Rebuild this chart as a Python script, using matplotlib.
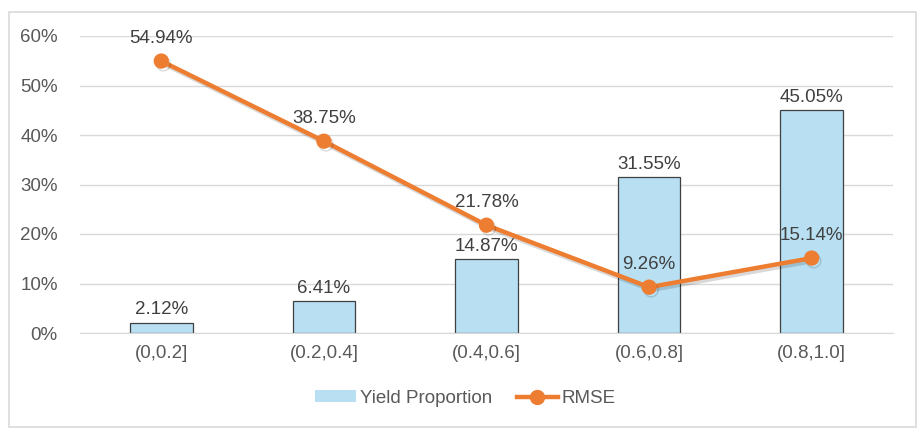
import matplotlib
matplotlib.use("Agg")
import matplotlib.pyplot as plt
import matplotlib.patheffects as pe
from matplotlib.patches import Rectangle, Patch
from matplotlib.lines import Line2D
from matplotlib.ticker import FuncFormatter

categories = ["(0,0.2]", "(0.2,0.4]", "(0.4,0.6]", "(0.6,0.8]", "(0.8,1.0]"]
yield_proportion = [2.12, 6.41, 14.87, 31.55, 45.05]
rmse = [54.94, 38.75, 21.78, 9.26, 15.14]
yticks = [0, 10, 20, 30, 40, 50, 60]

plt.rcParams['font.family'] = ['Liberation Sans', 'DejaVu Sans']

BAR_COLOR = "#b8e0f2"
LINE_COLOR = "#ed7d31"
TEXT_COLOR = "#404040"
FS = 13.5

fig = plt.figure(figsize=(9.23, 4.33), dpi=100)
fig.patch.set_facecolor("white")
fig.patches.append(Rectangle((9/923, 1-427/433), (916-9)/923, (427-12)/433,
                             transform=fig.transFigure, fill=False,
                             edgecolor="#d9d9d9", linewidth=1.2))

ax = fig.add_axes([80/923, 1-333/433, (893-80)/923, (333-36)/433])
x = list(range(len(categories)))

ax.bar(x, yield_proportion, width=0.385, color=BAR_COLOR, edgecolor="#404040",
       linewidth=0.9, zorder=2)

shadow = [pe.SimpleLineShadow(offset=(1.5, -2), shadow_color="black", alpha=0.15),
          pe.Normal()]
ax.plot(x, rmse, color=LINE_COLOR, linewidth=3.2, marker="o", markersize=10,
        zorder=3, path_effects=shadow, solid_capstyle="round")

for xi, v in zip(x, yield_proportion):
    ax.annotate(f"{v:.2f}%", (xi, v), xytext=(0, 3), textcoords="offset points",
                ha="center", va="bottom", fontsize=FS, color=TEXT_COLOR, zorder=4)
for xi, v in zip(x, rmse):
    ax.annotate(f"{v:.2f}%", (xi, v), xytext=(0, 10), textcoords="offset points",
                ha="center", va="bottom", fontsize=FS, color=TEXT_COLOR, zorder=4)

ax.set_xlim(-0.5, len(categories) - 0.5)
ax.set_ylim(0, 60)
ax.set_yticks(yticks)
ax.yaxis.set_major_formatter(FuncFormatter(lambda v, p: f"{v:.0f}%"))
ax.set_xticks(x)
ax.set_xticklabels(categories)
ax.tick_params(axis="both", length=0, labelsize=FS, colors="#595959")
ax.tick_params(axis="y", pad=16)
ax.tick_params(axis="x", pad=9)
ax.grid(axis="y", color="#d9d9d9", linewidth=1, zorder=0)
ax.set_axisbelow(True)
for s in ["top", "right", "left"]:
    ax.spines[s].set_visible(False)
ax.spines["bottom"].set_color("#d9d9d9")

handles = [Patch(facecolor=BAR_COLOR, edgecolor="none"),
           Line2D([0], [0], color=LINE_COLOR, linewidth=3.2, marker="o", markersize=10)]
leg = ax.legend(handles, ["Yield Proportion", "RMSE"], loc="upper center",
                bbox_to_anchor=(0.474, -0.135), ncol=2, frameon=False, fontsize=FS,
                handlelength=2.2, handleheight=0.6, columnspacing=1.3,
                handletextpad=0.2)
for t in leg.get_texts():
    t.set_color("#595959")

fig.savefig("out.png", dpi=100)
